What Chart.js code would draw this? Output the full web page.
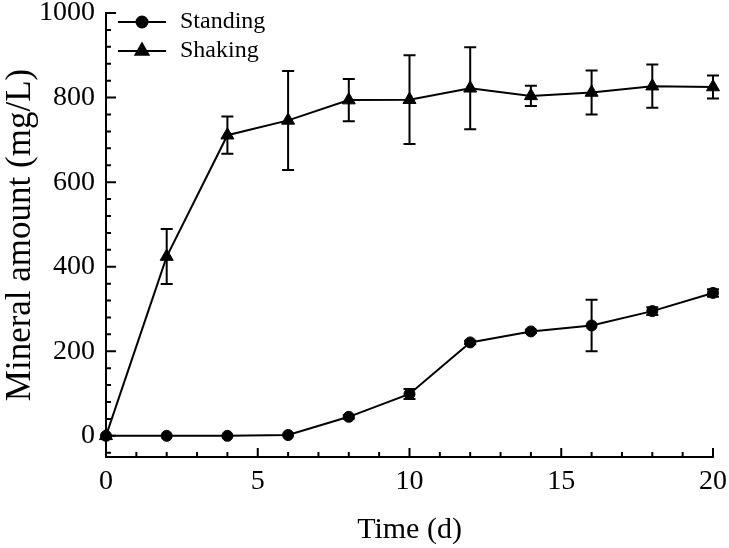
<!DOCTYPE html>
<html>
<head>
<meta charset="utf-8">
<script src="https://cdn.jsdelivr.net/npm/chart.js@4/dist/chart.umd.min.js"></script>
<style>
  html, body { margin: 0; padding: 0; background: #fff; }
  #box { width: 729px; height: 548px; position: relative; }
</style>
</head>
<body>
<div id="box"><canvas id="grafico"></canvas></div>
<script>
// dados
const tempo = [0, 2, 4, 6, 8, 10, 12, 14, 16, 18, 20];
const standing = [0, 0, 0, 2, 45, 99, 221, 247, 261, 295, 338];
const standingErr = [0, 0, 0, 0, 4, 12, 4, 4, 61, 9, 9];
const shaking = [0, 424, 711, 746, 794, 795, 822, 804, 812, 827, 825];
const shakingErr = [0, 65, 44, 117, 50, 105, 97, 24, 52, 51, 27];
const xTicks = [0, 5, 10, 15, 20];
const yTicks = [0, 200, 400, 600, 800, 1000];

const fonte = "'Liberation Serif', 'Times New Roman', serif";

function pontos(ys) {
    return tempo.map((t, i) => ({ x: t, y: ys[i] }));
}

// barras de erro, ticks para dentro e legenda
const extras = {
    id: 'extras',
    beforeDatasetsDraw(chart) {
        const ctx = chart.ctx;
        const x = chart.scales.x, y = chart.scales.y;
        ctx.save();
        ctx.strokeStyle = '#000';
        ctx.lineWidth = 2;
        chart.data.datasets.forEach(ds => {
            ds.erros.forEach((e, i) => {
                if (!e) return;
                const px = x.getPixelForValue(tempo[i]);
                const top = y.getPixelForValue(ds.data[i].y + e);
                const bot = y.getPixelForValue(ds.data[i].y - e);
                ctx.beginPath();
                ctx.moveTo(px, top); ctx.lineTo(px, bot);
                ctx.moveTo(px - 6, top); ctx.lineTo(px + 6, top);
                ctx.moveTo(px - 6, bot); ctx.lineTo(px + 6, bot);
                ctx.stroke();
            });
        });
        ctx.restore();
    },
    afterDraw(chart) {
        const ctx = chart.ctx;
        const x = chart.scales.x, y = chart.scales.y;
        const area = chart.chartArea;
        ctx.save();
        ctx.strokeStyle = '#000';
        ctx.lineWidth = 2;
        ctx.beginPath();
        for (let v = x.min; v <= x.max; v += 1) {
            const px = x.getPixelForValue(v);
            const len = v % 5 === 0 ? 9 : 5;
            ctx.moveTo(px, area.bottom); ctx.lineTo(px, area.bottom - len);
        }
        for (let v = -40; v <= y.max; v += 40) {
            const py = y.getPixelForValue(v);
            const len = v % 200 === 0 ? 10 : 5;
            ctx.moveTo(area.left, py); ctx.lineTo(area.left + len, py);
        }
        ctx.stroke();

        // legenda
        chart.data.datasets.forEach((ds, i) => {
            const ly = 22 + i * 29;
            ctx.beginPath();
            ctx.moveTo(118, ly); ctx.lineTo(166, ly);
            ctx.stroke();
            ctx.fillStyle = '#000';
            Chart.helpers.drawPoint(ctx, {
                pointStyle: ds.pointStyle,
                radius: ds.pointRadius,
                borderWidth: 1
            }, 142, ly);
            ctx.fillStyle = '#000';
            ctx.font = '24px ' + fonte;
            ctx.textBaseline = 'middle';
            ctx.fillText(ds.label, 180, ly);
        });
        ctx.restore();
    }
};

new Chart(document.getElementById('grafico'), {
    type: 'line',
    data: {
        datasets: [{
            label: 'Standing',
            data: pontos(standing),
            erros: standingErr,
            borderColor: '#000',
            borderWidth: 2,
            pointStyle: 'circle',
            pointRadius: 5.5,
            pointBackgroundColor: '#000',
            pointBorderColor: '#000',
            pointBorderWidth: 1,
            clip: false
        }, {
            label: 'Shaking',
            data: pontos(shaking),
            erros: shakingErr,
            borderColor: '#000',
            borderWidth: 2,
            pointStyle: 'triangle',
            pointRadius: 7.5,
            pointBackgroundColor: '#000',
            pointBorderColor: '#000',
            pointBorderWidth: 1,
            clip: false
        }]
    },
    options: {
        responsive: true,
        maintainAspectRatio: false,
        animation: false,
        layout: { padding: { top: 13, right: 16, left: 0, bottom: 0 } },
        plugins: {
            legend: { display: false },
            tooltip: { enabled: false }
        },
        scales: {
            x: {
                type: 'linear',
                min: 0,
                max: 20,
                afterBuildTicks: s => { s.ticks = xTicks.map(v => ({ value: v })); },
                afterFit: s => { s.height = 91; s.paddingLeft = 0; s.paddingRight = 0; },
                grid: { display: false, drawTicks: false },
                border: { display: true, color: '#000', width: 2 },
                ticks: { color: '#000', padding: 8, maxRotation: 0, callback: v => String(v), font: { family: fonte, size: 28, lineHeight: 1.2 } },
                title: { display: true, text: 'Time (d)', color: '#000', padding: { bottom: 0 }, font: { family: fonte, size: 30, lineHeight: 1.2 } }
            },
            y: {
                min: -50,
                max: 1000,
                afterBuildTicks: s => { s.ticks = yTicks.map(v => ({ value: v })); },
                afterFit: s => { s.width = 106; s.paddingTop = 0; s.paddingBottom = 0; },
                grid: { display: false, drawTicks: false },
                border: { display: true, color: '#000', width: 2 },
                ticks: { color: '#000', padding: 11, callback: v => String(v), font: { family: fonte, size: 28, lineHeight: 1 } },
                title: { display: true, text: 'Mineral amount (mg/L)', color: '#000', padding: { top: 0 }, font: { family: fonte, size: 35, lineHeight: 1.2 } }
            }
        }
    },
    plugins: [extras]
});
</script>
</body>
</html>
